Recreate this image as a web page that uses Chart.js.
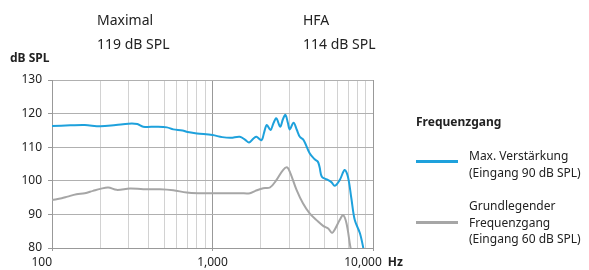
<!DOCTYPE html>
<html>
<head>
<meta charset="utf-8">
<script src="https://cdn.jsdelivr.net/npm/chart.js@4/dist/chart.umd.min.js"></script>
<style>
  body { margin: 0; background: #fff; font-family: "Noto Sans", sans-serif; color: #222; }
  #wrap { position: relative; width: 589px; height: 270px; }
  #wrap canvas { position: absolute; left: 0; top: 0; }
  .txt { position: absolute; font-size: 14px; line-height: 24px; white-space: nowrap; }
  .legend-title { position: absolute; left: 416px; top: 113px; font-size: 12px; font-weight: bold; }
  .legend-item { position: absolute; left: 416px; }
  .legend-item .swatch { position: absolute; left: 0; width: 42px; height: 3px; }
  .legend-item .label { position: absolute; left: 53px; font-size: 12px; line-height: 16.5px; white-space: nowrap; }
</style>
</head>
<body>
<div id="wrap">
  <canvas id="chart" width="589" height="270"></canvas>
  <div class="txt" style="left:97px; top:8px">Maximal<br>119 dB SPL</div>
  <div class="txt" style="left:303px; top:8px">HFA<br>114 dB SPL</div>
  <div class="legend-title">Frequenzgang</div>
  <div id="legend"></div>
</div>
<script>
// y axis
const yTicks = [80, 90, 100, 110, 120, 130];
const xLabels = [100, 1000, 10000];

// Max. Verstärkung (Eingang 90 dB SPL)
const maxFreq = [100, 130, 160, 200, 250, 300, 340, 370, 450, 520, 570, 650, 700, 800, 1000,
  1150, 1300, 1480, 1600, 1690, 1800, 1880, 2020, 2100, 2180, 2300, 2400, 2500, 2640, 2750,
  2850, 2950, 3030, 3200, 3350, 3500, 3700, 4030, 4330, 4530, 4650, 4800, 5150, 5500, 5780,
  6200, 6660, 6980, 7330, 7700, 8290, 8700, 9000];
const maxDb = [116.3, 116.5, 116.6, 116.2, 116.6, 117.0, 116.9, 116.1, 116.1, 115.9, 115.3, 115.0, 114.5, 114.1, 113.6,
  113.0, 112.8, 113.1, 112.2, 111.4, 112.6, 113.1, 112.1, 114.5, 116.6, 115.1, 117.2, 118.6, 116.1, 118.4,
  119.6, 117.2, 115.3, 117.3, 115.2, 113.1, 112.1, 108.2, 106.4, 105.7, 104.0, 101.2, 100.4, 99.6, 98.5,
  100.2, 103.2, 101.2, 94.8, 88.3, 84.4, 80.0, 76.0];

// Grundlegender Frequenzgang (Eingang 60 dB SPL)
const baseFreq = [100, 115, 125, 142, 160, 180, 200, 224, 253, 306, 370, 470, 570, 690, 835,
  1000, 1500, 1710, 1850, 2070, 2280, 2500, 2750, 2920, 3060, 3340, 3660, 4030, 4450, 4890,
  5260, 5550, 5780, 6200, 6515, 6840, 7200, 7450];
const baseDb = [94.3, 94.8, 95.3, 96.0, 96.3, 97.0, 97.6, 98.0, 97.3, 97.7, 97.5, 97.5, 97.2, 96.5, 96.3,
  96.3, 96.3, 96.3, 97.0, 97.8, 98.0, 100.2, 103.2, 104.0, 102.2, 97.3, 93.3, 90.3, 88.3, 86.6,
  85.8, 84.5, 85.5, 88.3, 89.8, 87.3, 80.8, 77.0];

const seriesNames = [
  ['Max. Verstärkung', '(Eingang 90 dB SPL)'],
  ['Grundlegender', 'Frequenzgang', '(Eingang 60 dB SPL)'],
];
const seriesColors = ['#1ea1dc', '#a6a6a6'];

const toPoints = (xs, ys) => xs.map((x, i) => ({ x, y: ys[i] }));
const isDecade = (v) => Math.abs(Math.log10(v) % 1) < 1e-9;

// custom x labels: first one sits left of its line, the last one a bit left
const xLabelPlugin = {
  id: 'xLabels',
  afterDraw(chart) {
    const { ctx, scales: { x }, chartArea } = chart;
    ctx.save();
    ctx.fillStyle = '#222';
    ctx.font = '12px "Noto Sans"';
    ctx.textBaseline = 'middle';
    const y = chartArea.bottom + 15;
    xLabels.forEach((v, i) => {
      const px = x.getPixelForValue(v);
      const text = v.toLocaleString('en-US');
      if (i === 0) {
        ctx.textAlign = 'right';
        ctx.fillText(text, px, y);
      } else if (i === xLabels.length - 1) {
        ctx.textAlign = 'center';
        ctx.fillText(text, px - 10, y);
        const w = ctx.measureText(text).width;
        ctx.textAlign = 'left';
        ctx.font = 'bold 12px "Noto Sans"';
        ctx.fillText('Hz', px - 10 + w / 2 + 6, y);
      } else {
        ctx.textAlign = 'center';
        ctx.fillText(text, px, y);
      }
    });
    ctx.font = 'bold 12px "Noto Sans"';
    ctx.textAlign = 'left';
    ctx.fillText('dB SPL', 10, 59);
    ctx.restore();
  },
};

new Chart(document.getElementById('chart'), {
  type: 'line',
  data: {
    datasets: [
      { label: seriesNames[0].join(' '), data: toPoints(maxFreq, maxDb), borderColor: seriesColors[0] },
      { label: seriesNames[1].join(' '), data: toPoints(baseFreq, baseDb), borderColor: seriesColors[1] },
    ],
  },
  options: {
    responsive: false,
    animation: false,
    layout: { padding: { top: 80, right: 216, left: 0, bottom: 0 } },
    elements: {
      point: { radius: 0 },
      line: { borderWidth: 2, tension: 0.35, fill: false },
    },
    plugins: { legend: { display: false }, tooltip: { enabled: false } },
    scales: {
      x: {
        type: 'logarithmic',
        min: 100,
        max: 10000,
        afterBuildTicks(scale) {
          const ticks = [];
          for (let d = 100; d < 10000; d *= 10) {
            for (let m = 1; m < 10; m++) ticks.push({ value: m * d });
          }
          ticks.push({ value: 10000 });
          scale.ticks = ticks;
        },
        afterFit(scale) { scale.height = 22; },
        ticks: { display: false },
        border: { color: '#999', width: 1 },
        grid: {
          color: (c) => (c.tick && isDecade(c.tick.value) ? '#999' : '#d2d2d2'),
          tickColor: (c) => (c.tick && isDecade(c.tick.value) ? '#999' : 'rgba(0,0,0,0)'),
          tickLength: 3,
          lineWidth: 1,
        },
      },
      y: {
        min: 80,
        max: 130,
        afterBuildTicks(scale) { scale.ticks = yTicks.map((value) => ({ value })); },
        afterFit(scale) { scale.width = 52; },
        ticks: { color: '#222', font: { family: 'Noto Sans', size: 12 }, padding: 6 },
        border: { color: '#999', width: 1 },
        grid: { color: '#b0b0b0', tickColor: '#999', tickLength: 4, lineWidth: 1 },
      },
    },
  },
  plugins: [xLabelPlugin],
});

// legend built from the series
const legendTops = [148, 198];
const legend = document.getElementById('legend');
seriesNames.forEach((lines, i) => {
  const item = document.createElement('div');
  item.className = 'legend-item';
  item.style.top = legendTops[i] + 'px';
  const swatchTop = lines.length === 2 ? 12 : 23;
  item.innerHTML = `<div class="swatch" style="top:${swatchTop}px;background:${seriesColors[i]}"></div>`
    + `<div class="label">${lines.join('<br>')}</div>`;
  legend.appendChild(item);
});
</script>
</body>
</html>
